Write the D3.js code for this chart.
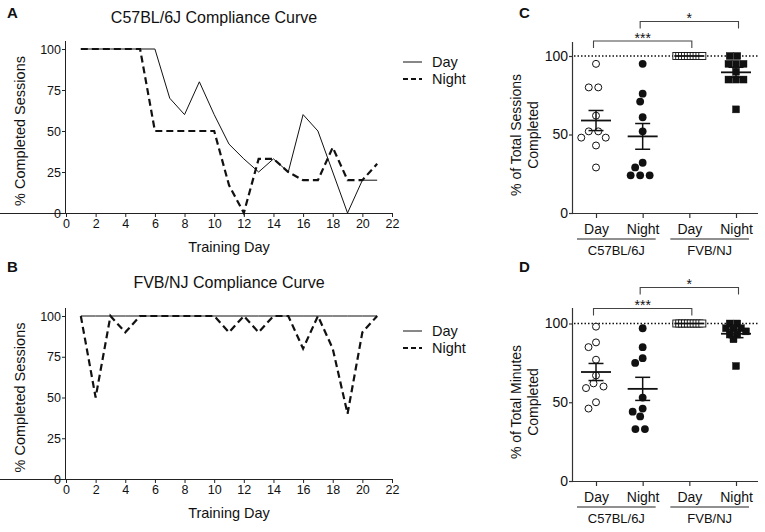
<!DOCTYPE html>
<html><head><meta charset="utf-8">
<script src="https://cdn.jsdelivr.net/npm/d3@7"></script>
<style>body{margin:0;background:#fff}svg{display:block}text{font-family:"Liberation Sans",Arial,sans-serif;fill:#111}</style>
</head><body>
<svg id="c" width="765" height="532"></svg>
<script>
// ---------- data ----------
const days = d3.range(1, 22);
const xTicks = [0,2,4,6,8,10,12,14,16,18,20,22];
const yTicksLine = [0,25,50,75,100];
const c57Day   = [100,100,100,100,100,100,70,60,80,60,42,33,25,33,25,60,50,25,0,20,20];
const c57Night = [100,100,100,100,100,50,50,50,50,50,17,0,33,33,25,20,20,40,20,20,30];
const fvbDay   = [100,100,100,100,100,100,100,100,100,100,100,100,100,100,100,100,100,100,100,100,100];
const fvbNight = [100,50,100,90,100,100,100,100,100,100,90,100,90,100,100,80,100,80,40,90,100];

const categories = ["Day","Night","Day","Night"];
const groups = ["C57BL/6J","FVB/NJ"];
const yTicksScatter = [0,50,100];
const sessC57Day   = [95,80,80,62,52,52,48,48,43,29];
const sessC57Night = [95,76,71,61,52,32,29,24,24,24];
const sessFvbDay   = [100,100,100,100,100,100,100,100,100,100];
const sessFvbNight = [100,100,95,95,95,90,85,85,85,66];
const minC57Day    = [98,88,85,77,67,62,60,59,50,46];
const minC57Night  = [97,85,78,75,53,46,44,41,33,33];
const minFvbDay    = [100,100,100,100,100,100,100,100,100,100];
const minFvbNight  = [100,100,97,97,97,95,93,93,90,73];

const svg = d3.select("#c");
const FONT = '"Liberation Sans",Arial,sans-serif';

// ---------- line panels ----------
function linePanel(o){
  const x = d3.scaleLinear().domain([0,22]).range([66,392]);
  const y = d3.scaleLinear().domain([0,100]).range([o.y0,o.y1]);
  const g = svg.append("g");
  const ax = g.append("g").attr("transform",`translate(0,${o.y0})`)
    .call(d3.axisBottom(x).tickValues(xTicks).tickSize(4).tickPadding(2));
  const ay = g.append("g").attr("transform",`translate(66,0)`)
    .call(d3.axisLeft(y).tickValues(yTicksLine).tickSize(4).tickPadding(1));
  [ax,ay].forEach(a=>{a.selectAll("text").style("font-size","12.5px").attr("fill","#111").style("font-family",FONT);
    a.selectAll("line,path").attr("stroke","#222");});
  ay.select(".domain").attr("d",`M-0.5,${o.y0}V${o.y1-8}`);
  ax.select(".domain").attr("d",`M0,0.5H${x(22)}`);
  const line = d3.line().x((d,i)=>x(days[i])).y(d=>y(d));
  g.append("path").datum(o.day).attr("d",line).attr("fill","none").attr("stroke","#111").attr("stroke-width",1);
  g.append("path").datum(o.night).attr("d",line).attr("fill","none").attr("stroke","#111").attr("stroke-width",2.2).attr("stroke-dasharray","7,4");
  g.append("text").attr("x",o.titleX).attr("y",o.titleY).attr("text-anchor","middle").style("font-size","16px").text(o.title);
  g.append("text").attr("x",229).attr("y",o.y0+39).attr("text-anchor","middle").style("font-size","14.5px").text("Training Day");
  g.append("text").attr("transform",`translate(25,${(o.y0+o.y1)/2}) rotate(-90)`).attr("text-anchor","middle").style("font-size","14.5px").text("% Completed Sessions");
  // legend
  g.append("line").attr("x1",403).attr("x2",422).attr("y1",o.legY).attr("y2",o.legY).attr("stroke","#111").attr("stroke-width",1);
  g.append("line").attr("x1",403).attr("x2",422).attr("y1",o.legY+17).attr("y2",o.legY+17).attr("stroke","#111").attr("stroke-width",2.2).attr("stroke-dasharray","5,3");
  g.append("text").attr("x",432).attr("y",o.legY+5).style("font-size","14.5px").text("Day");
  g.append("text").attr("x",432).attr("y",o.legY+22).style("font-size","14.5px").text("Night");
  g.append("text").attr("x",7).attr("y",o.letterY).style("font-size","15px").style("font-weight","bold").text(o.letter);
}
linePanel({day:c57Day,night:c57Night,y0:213,y1:49,title:"C57BL/6J Compliance Curve",titleX:214,titleY:23,legY:62,letter:"A",letterY:18});
linePanel({day:fvbDay,night:fvbNight,y0:479,y1:316,title:"FVB/NJ Compliance Curve",titleX:229,titleY:288,legY:331,letter:"B",letterY:272});

// ---------- simple beeswarm layout (rows of equal values, min-overlap placement) ----------
function swarm(vals, y, isSq){
  const dia = isSq ? 5.5 : 8.2;
  const placed = [];
  const rows = d3.groups(vals, v=>v).sort((a,b)=>b[0]-a[0]);
  rows.forEach(([v,arr])=>{
    const n = arr.length;
    const sp = Math.min(isSq ? 7.5 : 9.5, 26/Math.max(1,n-1));
    const py = y(v);
    let best=null, bestCost=Infinity;
    const shifts = d3.range(-6,7).map(k=>k*2.5);
    const widen = n>1 ? [0,2.5,5,7.5] : [0];
    shifts.forEach(s=>widen.forEach(w=>{
      const offs = d3.range(n).map(i=>{const b=(i-(n-1)/2)*sp; return b + Math.sign(b)*w + s;});
      let cost = 0;
      offs.forEach(ox=>{
        placed.forEach(p=>{const d=Math.hypot(p[0]-ox,p[1]-py); if(d<dia) cost += (dia-d)*10;});
        cost += Math.abs(ox)*0.06;
      });
      if(cost<bestCost-1e-9){bestCost=cost;best=offs;}
    }));
    best.forEach(ox=>placed.push([ox,py]));
  });
  return placed;
}

// ---------- scatter panels ----------
function scatterPanel(o){
  const x = d3.scalePoint().domain(d3.range(4)).range([596,736]);
  const y = d3.scaleLinear().domain([0,100]).range([o.y0,o.y100]);
  const g = svg.append("g");
  const ay = g.append("g").attr("transform",`translate(573,0)`)
    .call(d3.axisLeft(y).tickValues(yTicksScatter).tickSize(4).tickPadding(1));
  ay.select(".domain").attr("d",`M-0.5,${o.y0}V${o.axTop}`);
  ay.selectAll("text").style("font-size","14px").attr("fill","#111").style("font-family",FONT);
  ay.selectAll("line,path").attr("stroke","#333").attr("stroke-width",1.2);
  const ax = g.append("g").attr("transform",`translate(0,${o.y0})`)
    .call(d3.axisBottom(x).tickSize(5).tickFormat(i=>categories[i]).tickPadding(6));
  ax.select(".domain").attr("d",`M573,0.5H758`);
  ax.selectAll("text").style("font-size","14px").attr("fill","#111").style("font-family",FONT);
  ax.selectAll("line,path").attr("stroke","#333").attr("stroke-width",1.2);
  // group lines
  [[0,1],[2,3]].forEach((p,i)=>{
    const a = x(p[0])-19, b = x(p[1])+13;
    g.append("line").attr("x1",a).attr("x2",b).attr("y1",o.y0+26).attr("y2",o.y0+26).attr("stroke","#222").attr("stroke-width",1.2);
    g.append("text").attr("x",(a+b)/2).attr("y",o.y0+42).attr("text-anchor","middle").style("font-size","13px").text(groups[i]);
  });
  // dotted 100 line
  g.append("line").attr("x1",574).attr("x2",758).attr("y1",y(100)).attr("y2",y(100)).attr("stroke","#111").attr("stroke-width",1.4).attr("stroke-dasharray","1.5,2");
  o.sets.forEach((vals,ci)=>{
    const isSq = ci>=2, filled = ci%2===1;
    const pts = swarm(vals, y, isSq);
    pts.forEach(([ox,py])=>{
      if(isSq){
        const r = 3.5;
        g.append("rect").attr("x",x(ci)+ox-r).attr("y",py-r).attr("width",2*r).attr("height",2*r)
          .attr("fill",filled?"#111":"#fff").attr("stroke","#111").attr("stroke-width",filled?0.4:0.9);
      } else {
        g.append("circle").attr("cx",x(ci)+ox).attr("cy",py).attr("r",filled?3.9:3.5)
          .attr("fill",filled?"#111":"#fff").attr("stroke","#111").attr("stroke-width",filled?0:1);
      }
    });
    // mean +/- SEM
    const m = d3.mean(vals), sem = d3.deviation(vals)/Math.sqrt(vals.length);
    const cx = x(ci);
    g.append("line").attr("x1",cx-15).attr("x2",cx+15).attr("y1",y(m)).attr("y2",y(m)).attr("stroke","#111").attr("stroke-width",1.8);
    if(sem>0){
      g.append("line").attr("x1",cx).attr("x2",cx).attr("y1",y(m+sem)).attr("y2",y(m-sem)).attr("stroke","#111").attr("stroke-width",1.5);
      [m+sem,m-sem].forEach(v=>g.append("line").attr("x1",cx-7.5).attr("x2",cx+7.5).attr("y1",y(v)).attr("y2",y(v)).attr("stroke","#111").attr("stroke-width",1.5));
    }
  });
  // significance brackets
  const br = (a,b,yl,lab)=>{
    const xa = x(a)-2.5, xb = x(b)+2.5;
    g.append("path").attr("d",`M${xa},${yl+7}V${yl}H${xb}V${yl+7}`).attr("fill","none").attr("stroke","#444").attr("stroke-width",1.1);
    g.append("text").attr("x",(xa+xb)/2).attr("y",yl+1.5).attr("text-anchor","middle").style("font-size","14px").text(lab);
  };
  br(0,2,o.b1,"***");
  br(1,3,o.b2,"*");
  // y label
  g.append("text").attr("transform",`translate(521,${o.labY}) rotate(-90)`).attr("text-anchor","middle").style("font-size","14px").text(o.lab1);
  g.append("text").attr("transform",`translate(538,${o.labY}) rotate(-90)`).attr("text-anchor","middle").style("font-size","14px").text("Completed");
  g.append("text").attr("x",519).attr("y",o.letterY).style("font-size","15px").style("font-weight","bold").text(o.letter);
}
scatterPanel({sets:[sessC57Day,sessC57Night,sessFvbDay,sessFvbNight],y0:213,y100:56,axTop:42,b1:41,b2:21.5,lab1:"% of Total Sessions",labY:135,letter:"C",letterY:18});
scatterPanel({sets:[minC57Day,minC57Night,minFvbDay,minFvbNight],y0:481,y100:323.5,axTop:308,b1:308.5,b2:287.5,lab1:"% of Total Minutes",labY:402,letter:"D",letterY:272});
</script>
</body></html>
